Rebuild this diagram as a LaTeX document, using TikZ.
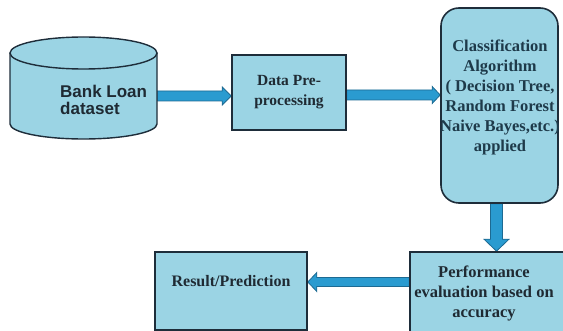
\documentclass[tikz,border=0pt]{standalone}
\usepackage{fontspec}
\setmainfont{Liberation Serif}
\newfontfamily\sansbold{Liberation Sans}
\usetikzlibrary{calc,backgrounds}
\definecolor{boxfill}{HTML}{9BD4E4}
\definecolor{boxline}{HTML}{1E2D3A}
\definecolor{arrfill}{HTML}{2A9BD0}
\definecolor{arrline}{HTML}{1D6A92}
\definecolor{txt}{HTML}{1F2A33}
\definecolor{classtxt}{HTML}{1E3A4A}
\begin{document}
\begin{tikzpicture}[x=1pt,y=1pt,
  box/.style={draw=boxline, fill=boxfill, line width=1.6pt, inner sep=0pt},
  arr/.style={fill=arrfill, draw=arrline, line width=0.8pt, line join=miter},
  lbl/.style={text=txt, font=\bfseries, align=center, inner sep=0pt}]
\useasboundingbox (0,0) rectangle (563,-331);
\clip (0,0) rectangle (563,-331);
% cylinder
\fill[boxfill] (10,-53) -- (10,-124) arc[start angle=180,end angle=360,x radius=73.5,y radius=15] -- (157,-53) arc[start angle=0,end angle=180,x radius=73.5,y radius=16] -- cycle;
\draw[boxline, line width=1.4pt] (10,-53) -- (10,-124) arc[start angle=180,end angle=360,x radius=73.5,y radius=15] -- (157,-53);
\draw[boxline, line width=1.4pt] (83.5,-53) ellipse[x radius=73.5, y radius=16];
\node[anchor=north west, inner sep=0pt, align=left, text=txt, font=\sansbold\bfseries\fontsize{17}{17.5}\selectfont] (bank) at (60,-84.5) {Bank Loan\\dataset};
\coordinate (cylR) at (157,-96);
% boxes
\node[box, minimum width=114pt, minimum height=75pt, lbl, font=\bfseries\fontsize{15.5}{20}\selectfont] (data) at (289,-92.5) {Data Pre-\\processing};
\node[box, rounded corners=18pt, minimum width=117pt, minimum height=195pt] (class) at (499.5,-105.5) {};
\node[box, minimum width=160pt, minimum height=84pt] (perf) at (490,-294) {};
\node[box, minimum width=152pt, minimum height=78pt] (result) at (231,-291) {};
% texts
\node[lbl, text=classtxt, anchor=north, font=\bfseries\fontsize{16.5}{20}\selectfont] (classtext) at (500,-40) {Classification\\Algorithm\\( Decision Tree,\\Random Forest\\Naive Bayes,etc.)\\applied};
\node[lbl, anchor=north, font=\bfseries\fontsize{16.5}{20}\selectfont] (perftext) at (484,-265.5) {Performance\\evaluation based on\\accuracy};
\node[lbl, anchor=base, font=\bfseries\fontsize{16}{20}\selectfont] (resulttext) at (231,-287) {Result/Prediction};
% arrows
\coordinate (a2s) at (data.east |- 0,-95);
\coordinate (dtop) at ($(class.south)+(-3pt,0)$);
\coordinate (a4s) at (perf.west |- 0,-282);
\begin{scope}[on background layer]
\draw[arr] let \p1=(cylR), \p2=(data.west |- cylR) in
  (\x1,\y1+5pt) -- (\x2-9pt,\y1+5pt) -- (\x2-9pt,\y1+9pt) -- (\x2,\y1) -- (\x2-9pt,\y1-9pt) -- (\x2-9pt,\y1-5pt) -- (\x1,\y1-5pt) -- cycle;
\draw[arr] let \p1=(a2s), \p2=(class.west |- a2s) in
  (\x1,\y1+5pt) -- (\x2-8pt,\y1+5pt) -- (\x2-8pt,\y1+8.5pt) -- (\x2,\y1) -- (\x2-8pt,\y1-8.5pt) -- (\x2-8pt,\y1-5pt) -- (\x1,\y1-5pt) -- cycle;
\draw[arr] let \p1=(dtop), \p2=(dtop |- perf.north) in
  (\x1-6pt,\y1) -- (\x1-6pt,\y2+12pt) -- (\x1-12.5pt,\y2+12pt) -- (\x1,\y2) -- (\x1+12.5pt,\y2+12pt) -- (\x1+6pt,\y2+12pt) -- (\x1+6pt,\y1) -- cycle;
\draw[arr] let \p1=(a4s), \p2=(result.east |- a4s) in
  (\x1,\y1+4.5pt) -- (\x2+9pt,\y1+4.5pt) -- (\x2+9pt,\y1+9.5pt) -- (\x2,\y1) -- (\x2+9pt,\y1-9.5pt) -- (\x2+9pt,\y1-4.5pt) -- (\x1,\y1-4.5pt) -- cycle;
\end{scope}
\end{tikzpicture}
\end{document}
